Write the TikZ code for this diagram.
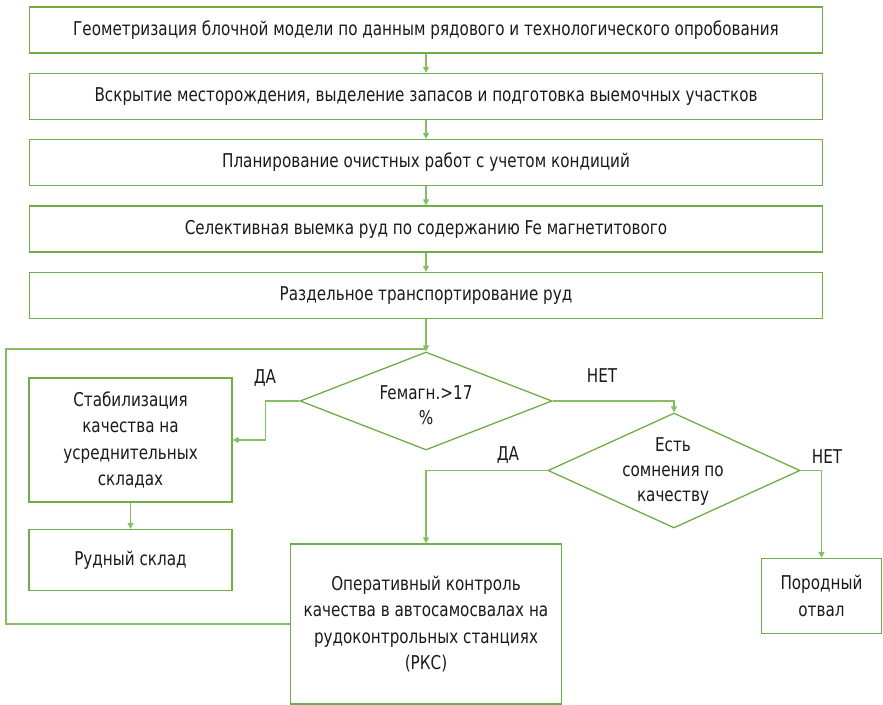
\documentclass[tikz,border=0pt]{standalone}
\usepackage{fontspec}
\setmainfont{DejaVu Sans}[FakeStretch=0.8]
\usetikzlibrary{arrows.meta,shapes.geometric}
\definecolor{grn}{HTML}{70AD47}
\definecolor{grnl}{HTML}{86BE64}
\definecolor{txt}{HTML}{1A1A1A}
\tikzset{
  box/.style={draw=grn,line width=1.3bp,rectangle,inner sep=0pt,align=center,text=txt,
    font=\fontsize{19bp}{26.5bp}\selectfont},
  dia/.style={draw=grn,line width=1.3bp,diamond,inner sep=0pt},
  dtext/.style={align=center,text=txt,inner sep=0pt,font=\fontsize{19bp}{25bp}\selectfont},
  lbl/.style={text=txt,inner sep=0pt,font=\fontsize{19bp}{20bp}\selectfont},
  conn/.style={draw=grnl,line width=1.1bp},
  arr/.style={conn,-{Triangle[length=6bp,width=6bp]}}
}
\begin{document}
\begin{tikzpicture}[x=1bp,y=-1bp]
\useasboundingbox (0,0) rectangle (883,705);
% top boxes
\node[box,minimum width=793bp,minimum height=46bp] (b1) at (426,30) {Геометризация блочной модели по данным рядового и технологического опробования};
\node[box,minimum width=793bp,minimum height=46bp] (b2) at (426,96.5) {Вскрытие месторождения, выделение запасов и подготовка выемочных участков};
\node[box,minimum width=793bp,minimum height=46bp] (b3) at (426,162.5) {Планирование очистных работ с учетом кондиций};
\node[box,minimum width=793bp,minimum height=46bp] (b4) at (426,229) {Селективная выемка руд по содержанию Fe магнетитового};
\node[box,minimum width=793bp,minimum height=46bp] (b5) at (426,295.5) {Раздельное транспортирование руд};
% decisions
\node[dia,minimum width=252bp,minimum height=98bp] (d1) at (426,401) {};
\node[dtext] (t1) at (426,405) {Feмагн.>17\\\%};
\node[dia,minimum width=252bp,minimum height=115bp] (d2) at (674,470.5) {};
\node[dtext] (t2) at (673,472) {Есть\\сомнения по\\качеству};
% lower boxes
\node[box,minimum width=203bp,minimum height=124bp] (stab) at (130.5,440) {Стабилизация\\качества на\\усреднительных\\складах};
\node[box,minimum width=203bp,minimum height=61bp] (rs) at (130.5,560) {Рудный склад};
\node[box,minimum width=271bp,minimum height=160bp] (rks) at (426,624) {Оперативный контроль\\качества в автосамосвалах на\\рудоконтрольных станциях\\(РКС)};
\node[box,minimum width=120bp,minimum height=75bp] (por) at (821.5,596) {Породный\\отвал};
% labels
\node[lbl] (l1) at (265,378) {ДА};
\node[lbl] (l2) at (602,376) {НЕТ};
\node[lbl] (l3) at (508,455) {ДА};
\node[lbl] (l4) at (827,457) {НЕТ};
% connectors
\draw[arr] (b1) -- (b2);
\draw[arr] (b2) -- (b3);
\draw[arr] (b3) -- (b4);
\draw[arr] (b4) -- (b5);
\coordinate (loopc) at (6,349);
\draw[conn] (rks.west) -| (loopc) -- (loopc -| d1.north);
\draw[arr] (b5) -- (d1);
\draw[arr] (d1.west) -- ++(-34,0) |- (stab.east);
\draw[arr] (stab.south) -- (rs.north);
\draw[arr] (d1.east) -| (d2.north);
\draw[arr] (d2.west) -| (rks.north);
\draw[arr] (d2.east) -| (por.north);
\end{tikzpicture}
\end{document}
